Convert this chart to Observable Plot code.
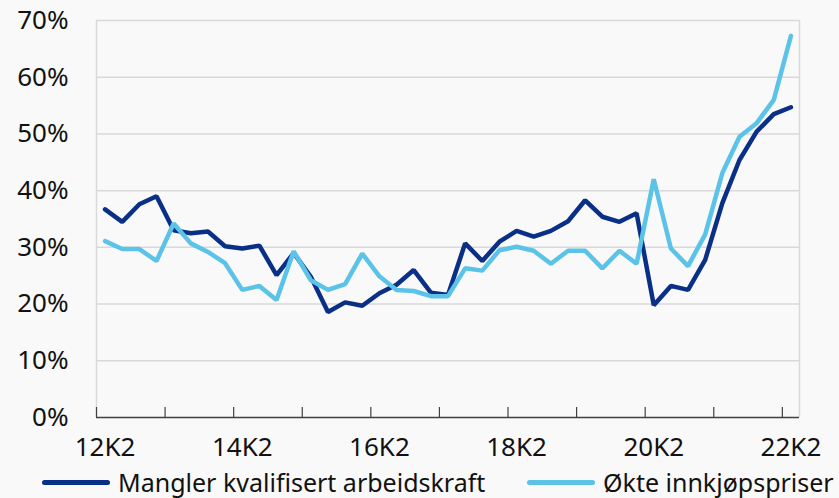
<!DOCTYPE html>
<html>
<head>
<meta charset="utf-8">
<script src="https://cdn.jsdelivr.net/npm/d3@7"></script>
<script src="https://cdn.jsdelivr.net/npm/@observablehq/plot@0.6"></script>
<style>
  html, body { margin: 0; padding: 0; background: #f9f9f9; }
  #chart { width: 839px; height: 498px; position: relative; font-family: "Noto Sans", sans-serif; }
  .legend { position: absolute; left: 0; top: 465px; width: 839px; height: 34px; font-size: 25px; color: #111; }
  .item { position: absolute; top: 0; display: flex; align-items: center; height: 34px; }
  .sw { display: inline-block; width: 68px; height: 5px; border-radius: 3px; margin-right: 8px; }
</style>
</head>
<body>
<div id="chart"></div>
<script>
// Quarters 12K2 .. 22K2 (41 quarters)
const quarters = [];
for (let y = 12; y <= 22; y++) for (let q = 1; q <= 4; q++) {
  if ((y === 12 && q < 2) || (y === 22 && q > 2)) continue;
  quarters.push(y + "K" + q);
}
const seriesNames = ["Mangler kvalifisert arbeidskraft", "Økte innkjøpspriser"];
const mangler = [36.7, 34.5, 37.6, 39.0, 33.0, 32.5, 32.8, 30.2, 29.8, 30.3,
                 25.1, 29.0, 24.8, 18.6, 20.3, 19.7, 21.9, 23.4, 26.0, 22.0,
                 21.6, 30.7, 27.6, 31.0, 32.9, 31.9, 32.9, 34.6, 38.3, 35.4,
                 34.5, 36.0, 19.8, 23.2, 22.5, 27.8, 37.8, 45.4, 50.4, 53.5, 54.7];
const okte =     [31.1, 29.7, 29.7, 27.6, 34.2, 30.7, 29.2, 27.2, 22.5, 23.2,
                 20.7, 29.3, 24.2, 22.5, 23.5, 28.9, 24.9, 22.5, 22.3, 21.4,
                 21.4, 26.3, 25.9, 29.5, 30.1, 29.4, 27.1, 29.4, 29.4, 26.3,
                 29.4, 27.1, 42.0, 29.8, 26.7, 32.3, 43.1, 49.5, 51.9, 56.0, 67.3];
const xTickLabels = ["12K2", "14K2", "16K2", "18K2", "20K2", "22K2"];
const yTicks = [0, 10, 20, 30, 40, 50, 60, 70];
const colors = ["#0a2f86", "#5bc3e8"];

const rows = [];
[mangler, okte].forEach((arr, s) => arr.forEach((v, i) => rows.push({i, q: quarters[i], v, s: seriesNames[s]})));

const labelIdx = xTickLabels.map(l => quarters.indexOf(l));
const boundaries = d3.range(-0.5, quarters.length, 4);

const H = 464, mT = 20, mB = 47;
const plot = Plot.plot({
  width: 839,
  height: H,
  marginLeft: 96,
  marginRight: 40,
  marginTop: mT,
  marginBottom: mB,
  style: {fontFamily: "Noto Sans, sans-serif", fontSize: "26px", background: "transparent", color: "#111"},
  x: {domain: [-0.5, quarters.length - 0.5]},
  y: {domain: [0, 70]},
  color: {domain: seriesNames, range: colors},
  marks: [
    Plot.ruleY(yTicks.filter(d => d > 0), {stroke: "#d9d9d9", strokeWidth: 1.5}),
    Plot.ruleX([-0.5, quarters.length - 0.5], {stroke: "#d9d9d9", strokeWidth: 1.5}),
    Plot.tickX(boundaries, {x: d => d, stroke: "#404040", strokeWidth: 1.2, insetTop: H - mT - mB - 10}),
    Plot.ruleY([0], {stroke: "#404040", strokeWidth: 1.5}),
    Plot.axisY({ticks: yTicks, tickFormat: d => d + "%", tickSize: 0, tickPadding: 28, fontSize: 26, label: null}),
    Plot.axisX({ticks: labelIdx, tickFormat: i => quarters[i], tickSize: 0, tickPadding: 20, fontSize: 26, label: null}),
    Plot.line(rows, {x: "i", y: "v", z: "s", stroke: "s", strokeWidth: 4.5, strokeLinejoin: "miter", strokeLinecap: "round"})
  ]
});
const root = document.getElementById("chart");
root.appendChild(plot);

const legend = document.createElement("div");
legend.className = "legend";
const lefts = [42, 527];
seriesNames.forEach((n, k) => {
  const it = document.createElement("div");
  it.className = "item";
  it.style.left = lefts[k] + "px";
  it.innerHTML = `<span class="sw" style="background:${colors[k]}"></span><span>${n}</span>`;
  legend.appendChild(it);
});
root.appendChild(legend);
</script>
</body>
</html>
